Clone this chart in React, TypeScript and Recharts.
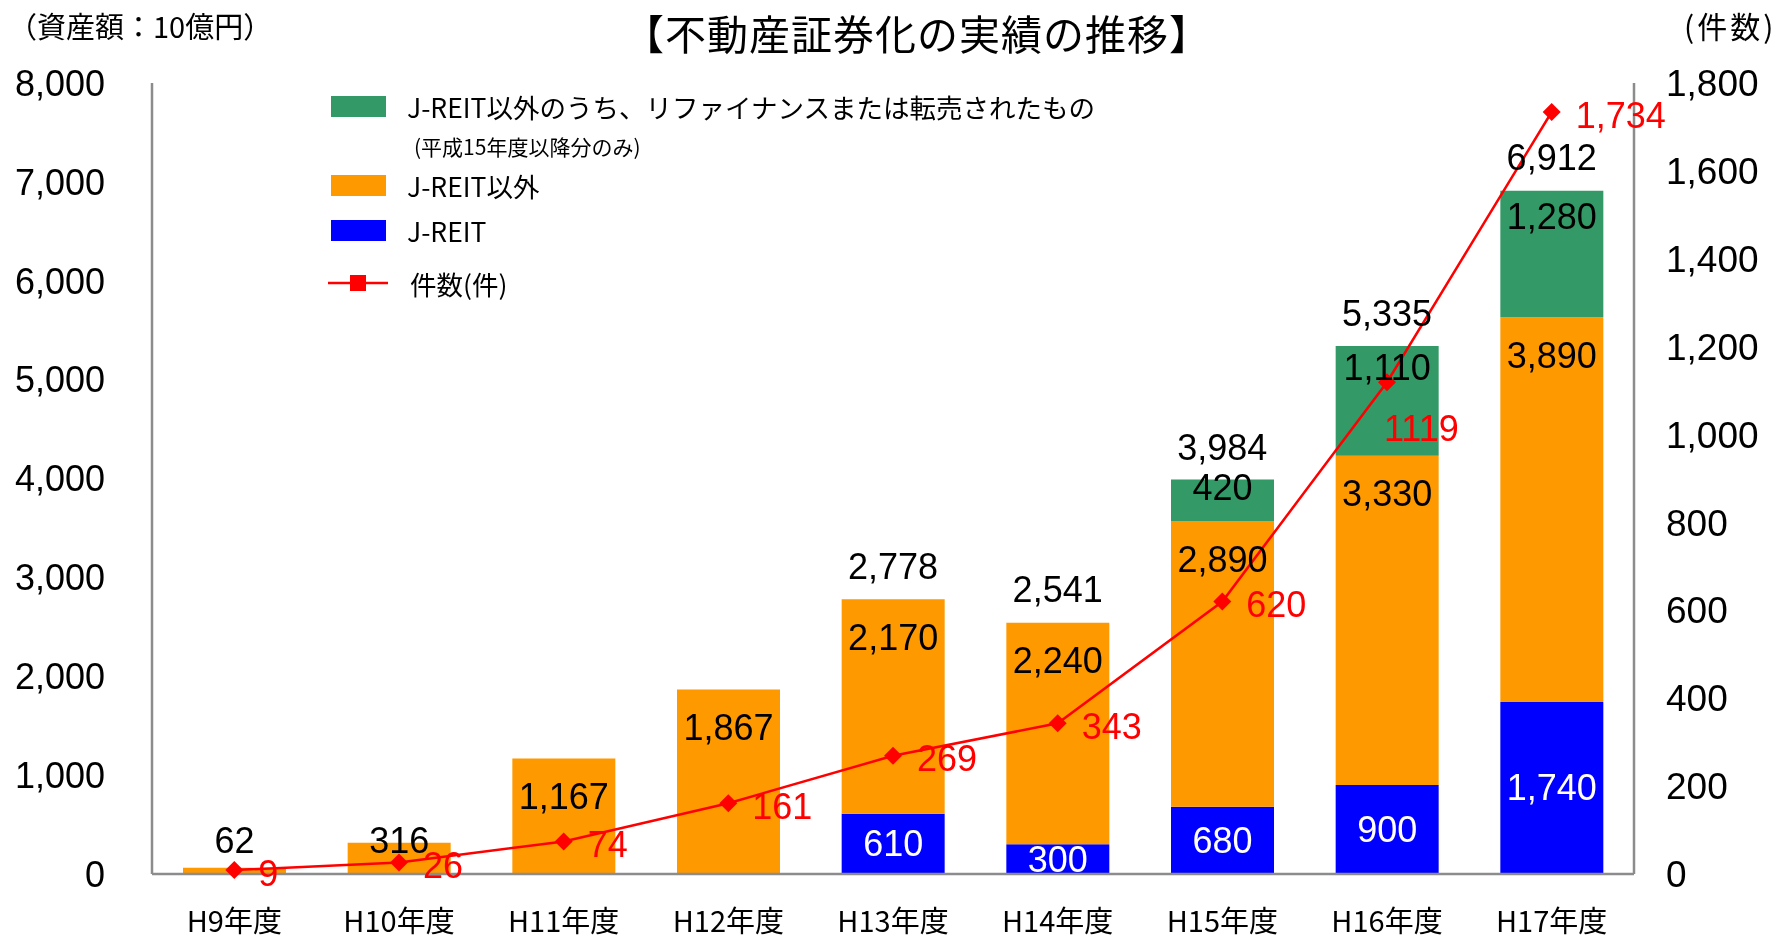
import React from 'react';
import {
  ComposedChart,
  Bar,
  Line,
  XAxis,
  YAxis,
  LabelList
} from 'recharts';

const years = ['H9年度', 'H10年度', 'H11年度', 'H12年度', 'H13年度', 'H14年度', 'H15年度', 'H16年度', 'H17年度'];
const jreit = [0, 0, 0, 0, 610, 300, 680, 900, 1740];
const nonJreit = [62, 316, 1167, 1867, 2170, 2240, 2890, 3330, 3890];
const refinanced = [0, 0, 0, 0, 0, 0, 420, 1110, 1280];
const totals = [null, null, null, null, 2778, 2541, 3984, 5335, 6912];
const counts = [9, 26, 74, 161, 269, 343, 620, 1119, 1734];
const countLabels = ['9', '26', '74', '161', '269', '343', '620', '1119', '1,734'];

const leftTicks = [0, 1000, 2000, 3000, 4000, 5000, 6000, 7000, 8000];
const rightTicks = [0, 200, 400, 600, 800, 1000, 1200, 1400, 1600, 1800];

const GREEN = '#339966';
const ORANGE = '#FF9900';
const BLUE = '#0000FF';
const RED = '#FF0000';
const AXIS = '#8c8c8c';

const NUM_FONT = '"Liberation Sans", Arial, sans-serif';
const JP_FONT = '"Noto Sans CJK JP", "Noto Sans", sans-serif';

const W = 1787;
const H = 941;

const data = years.map((year, i) => ({
  year,
  jreit: jreit[i],
  nonJreit: nonJreit[i],
  refinanced: refinanced[i],
  total: totals[i],
  count: counts[i]
}));

const fmt = (v: number) => v.toLocaleString('en-US');

// orange: label near the top inside the segment; short segments get it just above the axis
const orangeLabel = (props: any) => {
  const { x, y, width, height, value } = props;
  if (!value) return null;
  let cy = y + Math.min(38, height / 2);
  if (height < 60) cy = y + height - 34;
  return (
    <text x={x + width / 2} y={cy} textAnchor="middle" dominantBaseline="central"
      fontFamily={NUM_FONT} fontSize={36} fill="#000">
      {fmt(value)}
    </text>
  );
};

// green: hugs the top of the segment
const greenLabel = (props: any) => {
  const { x, y, width, height, value } = props;
  if (!value) return null;
  return (
    <text x={x + width / 2} y={y + Math.min(38, height * 0.2)} textAnchor="middle" dominantBaseline="central"
      fontFamily={NUM_FONT} fontSize={36} fill="#000">
      {fmt(value)}
    </text>
  );
};

const centerLabel = (props: any) => {
  const { x, y, width, height, value } = props;
  if (!value) return null;
  return (
    <text x={x + width / 2} y={y + height / 2} textAnchor="middle" dominantBaseline="central"
      fontFamily={NUM_FONT} fontSize={36} fill="#fff">
      {fmt(value)}
    </text>
  );
};

const totalLabel = (props: any) => {
  const { x, y, value } = props;
  if (value == null) return null;
  return (
    <text x={x} y={y - 33} textAnchor="middle" dominantBaseline="central"
      fontFamily={NUM_FONT} fontSize={36} fill="#000">
      {fmt(value)}
    </text>
  );
};

const countLabel = (props: any) => {
  const { x, y, index } = props;
  // the H16 label sits under its marker in the original
  const under = index === 7;
  return (
    <text x={x + (under ? -3 : 24)} y={y + (under ? 46 : 3)} textAnchor="start" dominantBaseline="central"
      fontFamily={NUM_FONT} fontSize={36} fill={RED}>
      {countLabels[index]}
    </text>
  );
};

const Diamond = (props: any) => {
  const { cx, cy, index } = props;
  const r = 9;
  return (
    <polygon key={`d-${index}`} points={`${cx},${cy - r} ${cx + r},${cy} ${cx},${cy + r} ${cx - r},${cy}`} fill={RED} />
  );
};

const XTick = (props: any) => {
  const { x, y, payload } = props;
  return (
    <text x={x} y={y} textAnchor="middle" dominantBaseline="central"
      fontFamily={JP_FONT} fontSize={29} fill="#000">
      {payload.value}
    </text>
  );
};

const legendRow = (top: number, label: string, color: string) => (
  <g>
    <rect x={331} y={top - 10} width={55} height={21} fill={color} />
    <text x={407} y={top} dominantBaseline="central" fontFamily={JP_FONT} fontSize={26.5} fill="#000">{label}</text>
  </g>
);

const App = () => {
  return (
    <div style={{ position: 'fixed', left: 0, top: 0, width: W, height: H }}>
      <ComposedChart
        width={W}
        height={H}
        data={data}
        margin={{ top: 83, right: 0, left: 0, bottom: 13 }}
        barCategoryGap={0}
      >
        <XAxis
          dataKey="year"
          height={54}
          axisLine={{ stroke: AXIS, strokeWidth: 2.5 }}
          tickLine={false}
          tickSize={0}
          tickMargin={45}
          tick={<XTick />}
          interval={0}
        />
        <YAxis
          yAxisId="left"
          orientation="left"
          width={152}
          domain={[0, 8000]}
          ticks={leftTicks}
          tickFormatter={fmt}
          axisLine={{ stroke: AXIS, strokeWidth: 2.5 }}
          tickLine={false}
          tickSize={0}
          tickMargin={47}
          tick={{ fontFamily: NUM_FONT, fontSize: 36, fill: '#000' }}
          interval={0}
        />
        <YAxis
          yAxisId="right"
          orientation="right"
          width={153}
          domain={[0, 1800]}
          ticks={rightTicks}
          tickFormatter={fmt}
          axisLine={{ stroke: AXIS, strokeWidth: 2.5 }}
          tickLine={false}
          tickSize={0}
          tickMargin={32}
          tick={{ fontFamily: NUM_FONT, fontSize: 37, fill: '#000', textAnchor: 'start' }}
          interval={0}
        />
        <Bar yAxisId="left" dataKey="jreit" stackId="a" fill={BLUE} barSize={103} isAnimationActive={false}>
          <LabelList dataKey="jreit" content={centerLabel} />
        </Bar>
        <Bar yAxisId="left" dataKey="nonJreit" stackId="a" fill={ORANGE} barSize={103} isAnimationActive={false}>
          <LabelList dataKey="nonJreit" content={orangeLabel} />
        </Bar>
        <Bar yAxisId="left" dataKey="refinanced" stackId="a" fill={GREEN} barSize={103} isAnimationActive={false}>
          <LabelList dataKey="refinanced" content={greenLabel} />
        </Bar>
        <Line yAxisId="left" dataKey="total" stroke="none" dot={false} activeDot={false}
          isAnimationActive={false} connectNulls={false}>
          <LabelList dataKey="total" content={totalLabel} />
        </Line>
        <Line yAxisId="right" type="linear" dataKey="count" stroke={RED} strokeWidth={2.5}
          dot={<Diamond />} activeDot={false} isAnimationActive={false}>
          <LabelList dataKey="count" content={countLabel} />
        </Line>
      </ComposedChart>

      <svg width={W} height={H} style={{ position: 'absolute', left: 0, top: 0, pointerEvents: 'none' }}>
        <text x={917} y={32} textAnchor="middle" dominantBaseline="central" fontFamily={JP_FONT} fontSize={41} letterSpacing={1} fill="#000">
          【不動産証券化の実績の推移】
        </text>
        <text x={8} y={25} dominantBaseline="central" fontFamily={JP_FONT} fontSize={29} fill="#000">
          （資産額：10億円）
        </text>
        <text x={1684} y={25} dominantBaseline="central" fontFamily={JP_FONT} fontSize={30} letterSpacing={3} fill="#000">
          (件数)
        </text>
        {legendRow(106, 'J-REIT以外のうち、リファイナンスまたは転売されたもの', GREEN)}
        <text x={414} y={146} dominantBaseline="central" fontFamily={JP_FONT} fontSize={21} fill="#000">
          (平成15年度以降分のみ)
        </text>
        {legendRow(185, 'J-REIT以外', ORANGE)}
        {legendRow(230, 'J-REIT', BLUE)}
        <line x1={328} x2={388} y1={283} y2={283} stroke={RED} strokeWidth={2.5} />
        <rect x={350} y={275} width={16} height={16} fill={RED} />
        <text x={410} y={283} dominantBaseline="central" fontFamily={JP_FONT} fontSize={26.5} fill="#000">
          件数(件)
        </text>
      </svg>
    </div>
  );
};

export default App;
